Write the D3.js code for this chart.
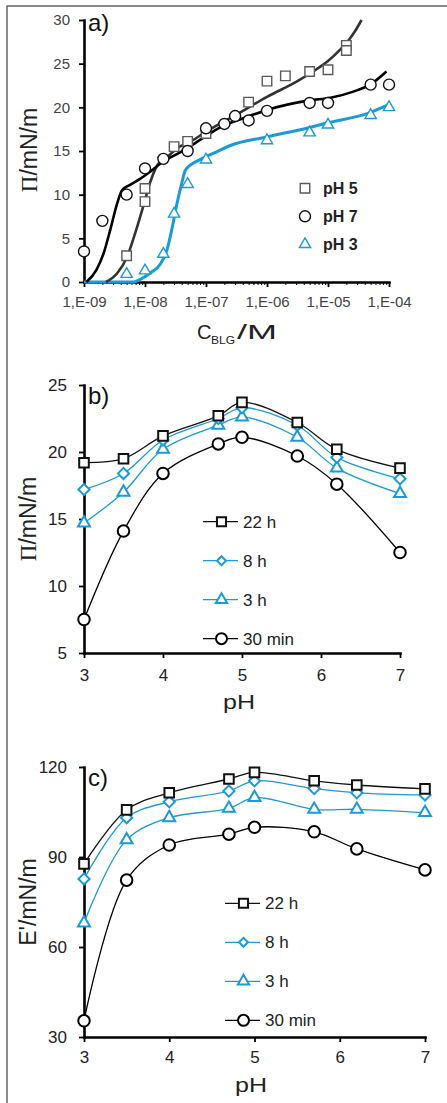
<!DOCTYPE html>
<html>
<head>
<meta charset="utf-8">
<script src="https://cdn.jsdelivr.net/npm/d3@7"></script>
<style>
  body { margin: 0; background: #fff; }
  svg { display: block; }
  text { font-family: "Liberation Sans", Arial, sans-serif; }
</style>
</head>
<body>
<svg id="fig" width="447" height="1103"></svg>
<script>
// ---------- Panel a: surface pressure isotherms vs BLG concentration ----------
const concPH5 = [5e-9, 1e-8, 1e-8, 3e-8, 5e-8, 1e-7, 5e-7, 1e-6, 2e-6, 5e-6, 1e-5, 2e-5, 2e-5];
const piPH5   = [3.0, 10.7, 9.2, 15.5, 16.1, 17.0, 20.6, 23.0, 23.6, 24.1, 24.3, 27.1, 26.5];
const concPH7 = [1e-9, 2e-9, 5e-9, 1e-8, 2e-8, 5e-8, 1e-7, 2e-7, 3e-7, 5e-7, 1e-6, 5e-6, 1e-5, 5e-5, 1e-4];
const piPH7   = [3.5, 7.0, 10.0, 13.0, 14.1, 15.0, 17.6, 18.1, 19.0, 18.5, 19.6, 20.5, 20.5, 22.6, 22.6];
const concPH3 = [5e-9, 1e-8, 2e-8, 3e-8, 5e-8, 1e-7, 1e-6, 5e-6, 1e-5, 5e-5, 1e-4];
const piPH3   = [0.9, 1.3, 3.2, 7.8, 11.2, 14.0, 16.2, 17.1, 18.0, 19.1, 20.0];

// fitted model curves
const fitConcPH5 = [2.3e-9, 3.5e-9, 5.1e-9, 7.2e-9, 9.3e-9, 1.2e-8, 1.6e-8, 2.3e-8, 3.7e-8, 5e-8, 1e-7, 3.2e-7, 1e-6, 3.16e-6, 6.3e-6, 1e-5, 1.58e-5, 2.24e-5, 2.82e-5, 3.55e-5];
const fitPiPH5   = [0, 1.0, 2.9, 6.0, 8.6, 11.3, 13.4, 14.3, 15.5, 15.9, 17.2, 19.2, 21.2, 23.0, 24.3, 25.3, 26.6, 27.8, 28.8, 30];
const fitConcPH7 = [1.1e-9, 1.6e-9, 2.1e-9, 2.7e-9, 3.5e-9, 4.2e-9, 5.6e-9, 8.3e-9, 1.2e-8, 2e-8, 3.7e-8, 9e-8, 1.7e-7, 4.7e-7, 1e-6, 5e-6, 1.1e-5, 2.6e-5, 4.9e-5, 9.1e-5];
const fitPiPH7   = [0, 1.4, 3.3, 6.0, 9.0, 10.5, 11.1, 11.8, 12.6, 13.8, 14.8, 16.5, 17.7, 18.9, 19.7, 20.8, 21.1, 21.8, 22.6, 24.1];
const fitConcPH3 = [1e-9, 6.5e-9, 8.9e-9, 1.2e-8, 1.8e-8, 2.3e-8, 2.75e-8, 3.3e-8, 4.0e-8, 4.6e-8, 7.9e-8, 1.5e-7, 2.45e-7, 9.8e-7, 5e-6, 9.5e-6, 4.9e-5, 9.8e-5];
const fitPiPH3   = [0, 0, 0.4, 1.0, 2.1, 3.7, 6.0, 8.8, 11.3, 12.8, 14.0, 14.9, 15.6, 16.6, 17.7, 18.2, 19.4, 20.3];

const decadesA     = [1e-9, 1e-8, 1e-7, 1e-6, 1e-5, 1e-4];
const xTickLabelsA = ["1,E-09", "1,E-08", "1,E-07", "1,E-06", "1,E-05", "1,E-04"];
const yTicksA      = [0, 5, 10, 15, 20, 25, 30];
const legendA      = ["pH 5", "pH 7", "pH 3"];

// ---------- Panels b and c: time series vs pH ----------
const pHValues = [3, 3.5, 4, 4.7, 5, 5.7, 6.2, 7];
const seriesNames = ["22 h", "8 h", "3 h", "30 min"];
const piB22h = [19.2, 19.5, 21.2, 22.7, 23.7, 22.2, 20.2, 18.8];
const piB8h  = [17.2, 18.4, 20.9, 22.5, 23.3, 22.0, 19.6, 18.0];
const piB3h  = [14.7, 17.0, 20.2, 22.0, 22.6, 21.1, 18.8, 16.9];
const piB30  = [7.5, 14.1, 18.4, 20.6, 21.1, 19.7, 17.6, 12.5];
const eC22h  = [87.7, 105.7, 111.4, 116.0, 118.2, 115.4, 114.0, 112.7];
const eC8h   = [82.7, 103.1, 108.4, 112.0, 115.4, 112.8, 111.4, 110.7];
const eC3h   = [68.0, 95.7, 103.1, 106.2, 109.8, 105.9, 105.9, 104.8];
const eC30   = [35.4, 82.3, 94.0, 97.6, 99.9, 98.4, 92.7, 85.7];
const xTicksPH = [3, 4, 5, 6, 7];
const yTicksB  = [5, 10, 15, 20, 25];
const yTicksC  = [30, 60, 90, 120];

const BLUE = "#1b9ad6";
const svg = d3.select("#fig");
svg.append("rect").attr("width", 447).attr("height", 1103).attr("fill", "#fff");

// outer frame (left and top edges)
svg.append("path").attr("d", "M7,1103V6H447").attr("fill", "none")
  .attr("stroke", "#666").attr("stroke-width", 1.5);

function styleAxis(g, color, size) {
  g.select(".domain").attr("stroke", "#000").attr("stroke-width", 2.6).attr("stroke-linecap", "square");
  g.selectAll(".tick line").attr("stroke", "#000").attr("stroke-width", 1.8);
  g.selectAll(".tick text").attr("fill", color).attr("font-size", size)
    .attr("font-family", "'Liberation Sans', Arial, sans-serif");
}

const sym = (type, size) => d3.symbol().type(type).size(size)();

// ================= Panel a =================
const xA = d3.scaleLog().domain([1e-9, 1e-4]).range([84, 389]);
const yA = d3.scaleLinear().domain([0, 30]).range([282, 20]);

const minorA = decadesA.slice(0, -1).flatMap(d => d3.range(2, 10).map(k => d * k));
svg.append("g").attr("transform", "translate(0,282)")
  .call(d3.axisBottom(xA).tickValues(minorA).tickFormat("").tickSize(3).tickSizeOuter(0))
  .call(g => { g.select(".domain").remove(); g.selectAll(".tick line").attr("stroke", "#000").attr("stroke-width", 1); });

const gxA = svg.append("g").attr("transform", "translate(0,282)")
  .call(d3.axisBottom(xA).tickValues(decadesA).tickFormat((d, i) => xTickLabelsA[i])
    .tickSize(5).tickSizeOuter(0).tickPadding(9));
styleAxis(gxA, "#444", 15);

const gyA = svg.append("g").attr("transform", "translate(84,0)")
  .call(d3.axisLeft(yA).tickValues(yTicksA).tickSize(5).tickSizeOuter(0).tickPadding(9));
styleAxis(gyA, "#444", 15);

const lineA = d3.line().x(d => xA(d[0])).y(d => yA(d[1])).curve(d3.curveMonotoneX);
const fitsA = [
  { c: fitConcPH3, p: fitPiPH3, color: BLUE, w: 3 },
  { c: fitConcPH5, p: fitPiPH5, color: "#333", w: 2.6 },
  { c: fitConcPH7, p: fitPiPH7, color: "#000", w: 2.6 }
];
fitsA.forEach(f => {
  svg.append("path").attr("d", lineA(d3.zip(f.c, f.p))).attr("fill", "none")
    .attr("stroke", f.color).attr("stroke-width", f.w);
});

const pointsA = [
  { c: concPH5, p: piPH5, type: d3.symbolSquare, size: 90, color: "#5a5a5a" },
  { c: concPH7, p: piPH7, type: d3.symbolCircle, size: 95, color: "#111" },
  { c: concPH3, p: piPH3, type: d3.symbolTriangle, size: 55, color: BLUE }
];
pointsA.forEach(s => {
  svg.append("g").selectAll("path").data(d3.zip(s.c, s.p)).join("path")
    .attr("transform", d => `translate(${xA(d[0])},${yA(d[1])})`)
    .attr("d", sym(s.type, s.size)).attr("fill", "#fff")
    .attr("stroke", s.color).attr("stroke-width", 1.4);
});

// legend a
pointsA.forEach((s, i) => {
  const y = 188.3 + i * 28;
  svg.append("path").attr("transform", `translate(305,${y})`).attr("d", sym(s.type, s.size))
    .attr("fill", "#fff").attr("stroke", s.color).attr("stroke-width", 1.4);
  svg.append("text").attr("x", 323).attr("y", y).attr("dy", "0.36em")
    .attr("font-size", 16).attr("font-weight", "bold").attr("fill", "#222").text(legendA[i]);
});

svg.append("text").attr("x", 88).attr("y", 31).attr("font-size", 24).attr("fill", "#111").text("a)");

// axis titles a
const titleA = svg.append("text").attr("transform", "translate(37,150) rotate(-90)")
  .attr("text-anchor", "middle").attr("font-size", 23).attr("fill", "#222");
titleA.append("tspan").attr("font-family", "'Liberation Serif', 'Times New Roman', serif").text("Π");
titleA.append("tspan").text("/mN/m");

svg.append("text").attr("x", 197).attr("y", 339).attr("font-size", 20).attr("fill", "#222").text("C");
svg.append("text").attr("x", 211).attr("y", 343.5).attr("font-size", 11.5).attr("fill", "#222")
  .attr("textLength", 24).attr("lengthAdjust", "spacingAndGlyphs").text("BLG");
svg.append("text").attr("x", 237).attr("y", 339).attr("font-size", 21).attr("fill", "#222")
  .attr("textLength", 40).attr("lengthAdjust", "spacingAndGlyphs").text("/M");

// ================= Panels b and c =================
const markerDefs = [
  { type: d3.symbolSquare, size: 92, rot: 0, color: "#111", lineColor: "#111" },
  { type: d3.symbolSquare, size: 62, rot: 45, color: BLUE, lineColor: BLUE },
  { type: d3.symbolTriangle, size: 62, rot: 0, color: BLUE, lineColor: BLUE },
  { type: d3.symbolCircle, size: 105, rot: 0, color: "#000", lineColor: "#000" }
];

function drawTimePanel(opt) {
  const x = d3.scaleLinear().domain([3, 7]).range([84, opt.xEnd]);
  const y = d3.scaleLinear().domain(opt.yDomain).range([opt.yBottom, opt.yTop]);

  const gx = svg.append("g").attr("transform", `translate(0,${opt.yBottom})`)
    .call(d3.axisBottom(x).tickValues(xTicksPH).tickFormat(d3.format("d"))
      .tickSize(5).tickSizeOuter(0).tickPadding(opt.xPad));
  styleAxis(gx, "#222", 17);
  const gy = svg.append("g").attr("transform", "translate(84,0)")
    .call(d3.axisLeft(y).tickValues(opt.yTicks).tickSize(5).tickSizeOuter(0).tickPadding(12));
  styleAxis(gy, "#222", 17);

  const line = d3.line().x(d => x(d[0])).y(d => y(d[1])).curve(d3.curveCatmullRom.alpha(0.5));
  const order = [3, 2, 1, 0];
  order.forEach(i => {
    const m = markerDefs[i];
    const pts = d3.zip(pHValues, opt.series[i]);
    svg.append("path").attr("d", line(pts)).attr("fill", "none")
      .attr("stroke", m.lineColor).attr("stroke-width", 1.3);
  });
  order.forEach(i => {
    const m = markerDefs[i];
    const pts = d3.zip(pHValues, opt.series[i]);
    svg.append("g").selectAll("path").data(pts).join("path")
      .attr("transform", d => `translate(${x(d[0])},${y(d[1])}) rotate(${m.rot})`)
      .attr("d", sym(m.type, m.size)).attr("fill", "#fff")
      .attr("stroke", m.color).attr("stroke-width", 2);
  });

  // legend
  seriesNames.forEach((name, i) => {
    const m = markerDefs[i];
    const ly = opt.legY + i * 39;
    svg.append("line").attr("x1", opt.legX).attr("x2", opt.legX + 35).attr("y1", ly).attr("y2", ly)
      .attr("stroke", m.lineColor).attr("stroke-width", 1.3);
    svg.append("path").attr("transform", `translate(${opt.legX + 18.5},${ly}) rotate(${m.rot})`)
      .attr("d", sym(m.type, i === 1 ? 40 : m.size * 0.9)).attr("fill", "#fff")
      .attr("stroke", m.color).attr("stroke-width", 2);
    svg.append("text").attr("x", opt.legX + 40).attr("y", ly).attr("dy", "0.36em")
      .attr("font-size", 17).attr("fill", "#222").text(name);
  });

  svg.append("text").attr("x", 88).attr("y", opt.yTop + opt.tagDy).attr("font-size", 24)
    .attr("fill", "#111").text(opt.tag);

  const yt = svg.append("text").attr("transform", `translate(36,${(opt.yTop + opt.yBottom) / 2}) rotate(-90)`)
    .attr("text-anchor", "middle").attr("font-size", 23).attr("fill", "#222");
  if (opt.serifFirst) {
    yt.append("tspan").attr("font-family", "'Liberation Serif', 'Times New Roman', serif").text(opt.yTitle[0]);
    yt.append("tspan").text(opt.yTitle[1]);
  } else {
    yt.text(opt.yTitle.join(""));
  }

  svg.append("text").attr("x", opt.pHx).attr("y", opt.pHy).attr("font-size", 21).attr("fill", "#222")
    .attr("textLength", 32).attr("lengthAdjust", "spacingAndGlyphs").text("pH");
}

drawTimePanel({
  xEnd: 400, yDomain: [5, 25], yBottom: 653, yTop: 385, yTicks: yTicksB, xPad: 11,
  series: [piB22h, piB8h, piB3h, piB30],
  legX: 203, legY: 521.7, tag: "b)", tagDy: 19,
  yTitle: ["Π", "/mN/m"], serifFirst: true, pHx: 223, pHy: 709
});

drawTimePanel({
  xEnd: 425, yDomain: [30, 120], yBottom: 1037, yTop: 767, yTicks: yTicksC, xPad: 9,
  series: [eC22h, eC8h, eC3h, eC30],
  legX: 225, legY: 903.3, tag: "c)", tagDy: 19,
  yTitle: ["E'", "/mN/m"], serifFirst: false, pHx: 235, pHy: 1092
});
</script>
</body>
</html>
